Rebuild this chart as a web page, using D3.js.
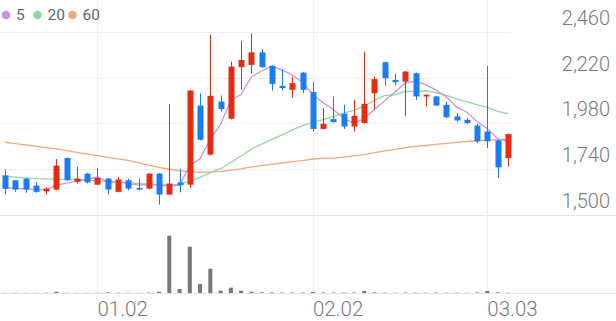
<!DOCTYPE html>
<html>
<head>
<meta charset="utf-8">
<script src="https://cdn.jsdelivr.net/npm/d3@7"></script>
<style>
  html, body { margin: 0; padding: 0; background: #fff; }
  svg { display: block; font-family: Roboto, sans-serif; }
</style>
</head>
<body>
<svg width="616" height="321" viewBox="0 0 616 321"></svg>
<script>
// input data, one entry per trading day
const dates = [
  '12.17', '12.18', '12.19', '12.22', '12.23', '12.24', '12.26', '12.29', '12.30', '01.02',
  '01.05', '01.06', '01.07', '01.08', '01.09', '01.12', '01.13', '01.14', '01.15', '01.16',
  '01.19', '01.20', '01.21', '01.22', '01.23', '01.26', '01.27', '01.28', '01.29', '01.30',
  '02.02', '02.03', '02.04', '02.05', '02.06', '02.09', '02.10', '02.11', '02.12', '02.13',
  '02.19', '02.20', '02.23', '02.24', '02.25', '02.26', '02.27', '03.03', '03.04', '03.05',
];
const opens = [
  1706, 1680, 1689, 1652, 1622, 1631, 1797, 1672, 1715, 1657,
  1689, 1619, 1680, 1640, 1636, 1715, 1605, 1669, 1657, 2073,
  1815, 2094, 2004, 2275, 2287, 2353, 2282, 2177, 2156, 2246,
  2144, 1950, 2002, 2030, 1963, 1981, 2138, 2301, 2208, 2199,
  2243, 2121, 2121, 2077, 2016, 1998, 1968, 1937, 1890, 1797,
];
const highs = [
  1736, 1682, 1692, 1669, 1643, 1792, 1800, 1750, 1719, 1745,
  1692, 1696, 1689, 1689, 1718, 1718, 2082, 1740, 2155, 2138,
  2444, 2126, 2304, 2414, 2453, 2369, 2285, 2264, 2225, 2250,
  2199, 2060, 2121, 2077, 2103, 2357, 2225, 2304, 2243, 2255,
  2246, 2131, 2124, 2094, 2033, 2007, 1977, 2282, 1893, 1926,
];
const lows = [
  1605, 1619, 1614, 1614, 1605, 1628, 1677, 1663, 1663, 1655,
  1605, 1617, 1627, 1627, 1633, 1552, 1603, 1617, 1640, 1890,
  1810, 2042, 2000, 2156, 2243, 2272, 2152, 2152, 2115, 2138,
  1937, 1947, 1984, 1950, 1937, 1978, 2051, 2177, 2178, 2019,
  2103, 2068, 2071, 2007, 1989, 1976, 1876, 1850, 1692, 1753,
];
const closes = [
  1635, 1631, 1631, 1619, 1636, 1757, 1680, 1689, 1669, 1692,
  1631, 1684, 1636, 1631, 1715, 1605, 1663, 1654, 2152, 1893,
  2124, 2054, 2278, 2313, 2353, 2275, 2187, 2165, 2191, 2156,
  1950, 1977, 1986, 1963, 2019, 2082, 2212, 2217, 2196, 2252,
  2121, 2130, 2073, 2012, 1995, 1981, 1885, 1885, 1748, 1923,
];
// volume, in thousands of shares
const volumes = [
  20, 20, 20, 20, 30, 130, 30, 20, 20, 20,
  60, 30, 20, 20, 40, 120, 5730, 400, 4630, 900,
  2430, 230, 530, 230, 130, 70, 60, 50, 50, 40,
  100, 50, 40, 40, 50, 200, 60, 40, 30, 40,
  40, 30, 40, 30, 30, 30, 50, 200, 60, 30,
];
// moving averages as drawn on the chart
const ma5 = [
  1642, 1638, 1635, 1632, 1630, 1655, 1665, 1676, 1686, 1697,
  1672, 1673, 1662, 1655, 1659, 1654, 1650, 1654, 1758, 1793,
  1897, 1975, 2100, 2132, 2224, 2255, 2281, 2259, 2234, 2195,
  2130, 2088, 2052, 2006, 1979, 2005, 2052, 2099, 2145, 2192,
  2200, 2183, 2154, 2118, 2066, 2038, 1989, 1952, 1899, 1884,
];
const ma20 = [
  1701, 1697, 1693, 1689, 1687, 1686, 1685, 1684, 1681, 1677,
  1673, 1670, 1667, 1663, 1660, 1657, 1656, 1658, 1674, 1695,
  1720, 1741, 1773, 1808, 1844, 1870, 1895, 1919, 1945, 1968,
  1984, 1999, 2016, 2033, 2048, 2072, 2099, 2127, 2130, 2148,
  2147, 2151, 2141, 2126, 2108, 2093, 2078, 2064, 2042, 2030,
];
const ma60 = [
  1880, 1873, 1866, 1859, 1852, 1845, 1836, 1827, 1818, 1810,
  1800, 1793, 1785, 1772, 1760, 1748, 1738, 1730, 1724, 1722,
  1724, 1727, 1733, 1740, 1750, 1757, 1764, 1771, 1778, 1783,
  1792, 1795, 1797, 1802, 1808, 1815, 1825, 1835, 1843, 1852,
  1858, 1863, 1869, 1874, 1879, 1884, 1888, 1892, 1894, 1895,
];
const priceTicks = [1500, 1740, 1980, 2220, 2460];
const maNames = ['5', '20', '60'];
const maColors = ['#cd8fe8', '#8fd9a1', '#f7a57d'];

const colorUp = '#e62b10';
const colorDown = '#1a7cf2';
const colorGrid = '#efefef';
const colorText = '#7a7a7a';

const svg = d3.select('svg');

// layout of the two panels
const plotWidth = 513;
const fullWidth = 616;
const priceTop = 32;
const priceBottom = 214.5;
const volBottom = 293;

// scales
const x = d3.scaleBand().domain(dates).range([0, plotWidth]);
const xc = d => x(d) + x.bandwidth() / 2;
const y = d3.scaleLinear().domain([1500, 2460]).range([priceBottom, priceTop]);
const yVol = d3.scaleLinear().domain([0, 6000]).range([volBottom, volBottom - 60]);

// first trading day of each month gets a tick
const monthTicks = dates.filter((d, i) => i > 0 && d.slice(0, 2) !== dates[i - 1].slice(0, 2));

// GRID
const grid = svg.append('g');
grid
  .selectAll('line.h')
  .data(priceTicks)
  .join('line')
  .attr('class', 'h')
  .attr('x1', 0)
  .attr('x2', d => (d === 1500 ? fullWidth : plotWidth - 2))
  .attr('y1', d => Math.round(y(d)) + 0.5)
  .attr('y2', d => Math.round(y(d)) + 0.5)
  .attr('stroke', d => (d === 1500 ? '#e3e3e3' : colorGrid))
  .attr('stroke-width', 1);

grid
  .selectAll('line.v')
  .data(monthTicks)
  .join('line')
  .attr('class', 'v')
  .attr('x1', d => Math.round(xc(d)) + 0.5)
  .attr('x2', d => Math.round(xc(d)) + 0.5)
  .attr('y1', 0)
  .attr('y2', volBottom)
  .attr('stroke', colorGrid);

// volume baseline
grid
  .append('line')
  .attr('x1', 0)
  .attr('x2', fullWidth)
  .attr('y1', volBottom + 0.5)
  .attr('y2', volBottom + 0.5)
  .attr('stroke', '#e3e3e3');

// AXIS LABELS
svg
  .append('g')
  .selectAll('text')
  .data(priceTicks)
  .join('text')
  .attr('x', 610)
  .attr('y', d => y(d) - 7)
  .attr('text-anchor', 'end')
  .attr('font-size', 20)
  .attr('font-weight', 300)
  .attr('fill', colorText)
  .text(d => d3.format(',')(d));

svg
  .append('g')
  .selectAll('text')
  .data(monthTicks)
  .join('text')
  .attr('x', d => xc(d))
  .attr('y', 315.7)
  .attr('font-size', 20.5)
  .attr('font-weight', 300)
  .attr('fill', colorText)
  .text(d => d);

// VOLUME
svg
  .append('g')
  .selectAll('rect')
  .data(dates)
  .join('rect')
  .attr('x', d => xc(d) - 2)
  .attr('width', 4)
  .attr('y', (d, i) => yVol(volumes[i]))
  .attr('height', (d, i) => volBottom - yVol(volumes[i]))
  .attr('fill', '#777');

// MOVING AVERAGES (drawn under the candles)
const line = d3
  .line()
  .x((d, i) => xc(dates[i]))
  .y(d => y(d));

svg
  .append('g')
  .selectAll('path')
  .data([ma60, ma20, ma5])
  .join('path')
  .attr('d', line)
  .attr('fill', 'none')
  .attr('stroke', (d, i) => maColors[2 - i])
  .attr('stroke-width', 1.3);

// CANDLES
const candles = svg
  .append('g')
  .selectAll('g')
  .data(dates)
  .join('g')
  .attr('fill', (d, i) => (closes[i] >= opens[i] ? colorUp : colorDown))
  .attr('stroke', (d, i) => (closes[i] >= opens[i] ? colorUp : colorDown));

candles
  .append('line')
  .attr('x1', d => Math.round(xc(d)) + 0.5)
  .attr('x2', d => Math.round(xc(d)) + 0.5)
  .attr('y1', (d, i) => y(highs[i]))
  .attr('y2', (d, i) => y(lows[i]))
  .attr('stroke-width', 1);

candles
  .append('rect')
  .attr('x', d => Math.round(xc(d)) - 2.5)
  .attr('width', 6)
  .attr('y', (d, i) => y(Math.max(opens[i], closes[i])))
  .attr('height', (d, i) => Math.max(1.5, Math.abs(y(opens[i]) - y(closes[i]))))
  .attr('stroke', 'none');

// LEGEND
const legend = svg
  .append('g')
  .selectAll('g')
  .data(maNames)
  .join('g')
  .attr('transform', (d, i) => `translate(${[6, 37.5, 72.5][i]} 15)`);

legend
  .append('circle')
  .attr('r', 4.3)
  .attr('fill', (d, i) => maColors[i]);

legend
  .append('text')
  .attr('x', 10)
  .attr('y', 5.3)
  .attr('font-size', 15.5)
  .attr('fill', '#666')
  .text(d => d);
</script>
</body>
</html>
